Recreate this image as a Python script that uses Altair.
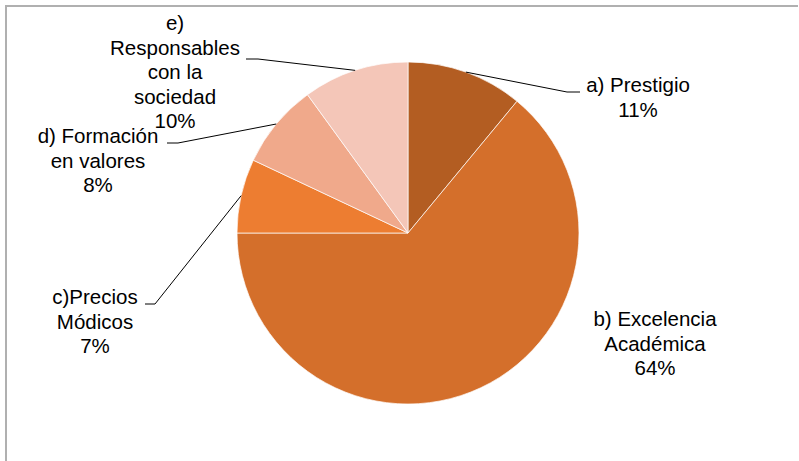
import math
import altair as alt
import pandas as pd

# ---- data ----
categories = [
    "a) Prestigio",
    "b) Excelencia Académica",
    "c)Precios Módicos",
    "d) Formación en valores",
    "e) Responsables con la sociedad",
]
label_lines = [
    ["a) Prestigio"],
    ["b) Excelencia", "Académica"],
    ["c)Precios", "Módicos"],
    ["d) Formación", "en valores"],
    ["e)", "Responsables", "con la", "sociedad"],
]
values = [11, 64, 7, 8, 10]
colors = ["#B35D22", "#D46F2B", "#ED7D31", "#F0A98B", "#F4C6B8"]

# ---- layout ----
W, H = 799, 461
CX, CY, R = 408, 233, 171
LINE_STEP = 24.5
label_layout = [
    dict(x=638, y=86, elbow=(567, 92), end=(580, 92)),
    dict(x=655, y=320, elbow=None, end=None),
    dict(x=95, y=298, elbow=(155, 304), end=(145, 304)),
    dict(x=98, y=137, elbow=(178, 143), end=(167, 143)),
    dict(x=175, y=24, elbow=(258, 59), end=(246, 59)),
]

total = sum(values)
pie = pd.DataFrame({
    "category": categories,
    "value": values,
    "order": list(range(len(values))),
})

# leader lines: start at slice mid-angle on the rim
line_rows = []
cum = 0
for i, v in enumerate(values):
    mid = (cum + v / 2) / total * 2 * math.pi
    cum += v
    lay = label_layout[i]
    if lay["elbow"] is None:
        continue
    sx = CX + R * math.sin(mid)
    sy = CY - R * math.cos(mid)
    pts = [(sx, sy), lay["elbow"], lay["end"]]
    for k, (px, py) in enumerate(pts):
        line_rows.append({"label": categories[i], "seq": k, "px": px, "py": py})
lines_df = pd.DataFrame(line_rows)

text_rows = []
for i, v in enumerate(values):
    lay = label_layout[i]
    lines = label_lines[i] + [f"{v}%"]
    for k, t in enumerate(lines):
        text_rows.append({"text": t, "px": lay["x"], "py": lay["y"] + k * LINE_STEP})
text_df = pd.DataFrame(text_rows)

xs = alt.Scale(domain=[0, W], range=[0, W])
ys = alt.Scale(domain=[0, H], range=[0, H])

one = pd.DataFrame({"a": [0]})
frame_top = alt.Chart(one).mark_rule(color="#B0B0B0", strokeWidth=2).encode(
    x=alt.value(5), x2=alt.value(798), y=alt.value(6)
)
frame_left = alt.Chart(one).mark_rule(color="#B0B0B0", strokeWidth=2).encode(
    x=alt.value(6), y=alt.value(5), y2=alt.value(H)
)

arcs = alt.Chart(pie).mark_arc(outerRadius=R, stroke="white", strokeWidth=0.7).encode(
    theta=alt.Theta("value:Q", stack=True),
    color=alt.Color("category:N", scale=alt.Scale(domain=categories, range=colors), legend=None),
    order=alt.Order("order:Q"),
    x=alt.value(CX),
    y=alt.value(CY),
)

leaders = alt.Chart(lines_df).mark_line(color="#000000", strokeWidth=1).encode(
    x=alt.X("px:Q", scale=xs, axis=None),
    y=alt.Y("py:Q", scale=ys, axis=None),
    detail="label:N",
    order="seq:Q",
)

texts = alt.Chart(text_df).mark_text(
    font="Liberation Sans", fontSize=20.5, color="#000000", align="center", baseline="middle"
).encode(
    x=alt.X("px:Q", scale=xs, axis=None),
    y=alt.Y("py:Q", scale=ys, axis=None),
    text="text:N",
)

chart = alt.layer(frame_top, frame_left, arcs, leaders, texts).properties(
    width=W, height=H, padding=0, autosize="none", background="white"
).configure_view(stroke=None)

chart.save("out.html", embed_options={"renderer": "svg", "actions": False})
